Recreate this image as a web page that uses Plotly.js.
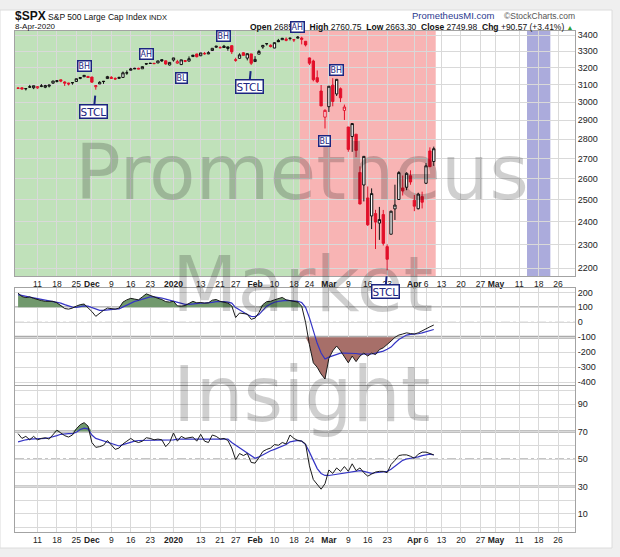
<!DOCTYPE html>
<html><head><meta charset="utf-8">
<script src="https://cdn.plot.ly/plotly-3.0.1.min.js"></script>
<style>html,body{margin:0;padding:0;background:#efefef;overflow:hidden}#chart{width:620px;height:557px}</style>
</head><body><div id="chart"></div>
<script>
// ---------------- DATA ----------------
const dates = ['2019-11-04','2019-11-05','2019-11-06','2019-11-07','2019-11-08','2019-11-11','2019-11-12','2019-11-13','2019-11-14','2019-11-15','2019-11-18','2019-11-19','2019-11-20','2019-11-21','2019-11-22','2019-11-25','2019-11-26','2019-11-27','2019-11-29',
'2019-12-02','2019-12-03','2019-12-04','2019-12-05','2019-12-06','2019-12-09','2019-12-10','2019-12-11','2019-12-12','2019-12-13','2019-12-16','2019-12-17','2019-12-18','2019-12-19','2019-12-20','2019-12-23','2019-12-24','2019-12-26','2019-12-27','2019-12-30','2019-12-31',
'2020-01-02','2020-01-03','2020-01-06','2020-01-07','2020-01-08','2020-01-09','2020-01-10','2020-01-13','2020-01-14','2020-01-15','2020-01-16','2020-01-17','2020-01-21','2020-01-22','2020-01-23','2020-01-24','2020-01-27','2020-01-28','2020-01-29','2020-01-30','2020-01-31',
'2020-02-03','2020-02-04','2020-02-05','2020-02-06','2020-02-07','2020-02-10','2020-02-11','2020-02-12','2020-02-13','2020-02-14','2020-02-18','2020-02-19','2020-02-20','2020-02-21','2020-02-24','2020-02-25','2020-02-26','2020-02-27','2020-02-28',
'2020-03-02','2020-03-03','2020-03-04','2020-03-05','2020-03-06','2020-03-09','2020-03-10','2020-03-11','2020-03-12','2020-03-13','2020-03-16','2020-03-17','2020-03-18','2020-03-19','2020-03-20','2020-03-23','2020-03-24','2020-03-25','2020-03-26','2020-03-27','2020-03-30','2020-03-31',
'2020-04-01','2020-04-02','2020-04-03','2020-04-06','2020-04-07','2020-04-08'];

const openP = [3078.96,3080.80,3075.10,3087.02,3081.25,3080.33,3089.28,3084.18,3090.75,3107.92,3117.91,3127.45,3114.66,3108.49,3111.41,3117.44,3134.85,3145.49,3147.18,
3143.85,3087.41,3103.50,3119.21,3134.62,3141.86,3135.36,3135.75,3141.23,3166.65,3183.63,3195.40,3195.21,3192.32,3223.33,3226.05,3225.45,3227.20,3247.23,3240.09,3215.18,
3244.67,3226.36,3217.55,3241.86,3238.59,3266.03,3281.81,3271.13,3285.35,3282.27,3302.97,3323.66,3321.03,3330.02,3315.77,3333.10,3247.16,3255.35,3289.46,3256.45,3282.33,
3235.66,3280.61,3324.91,3344.92,3335.54,3318.28,3365.87,3370.50,3365.90,3378.08,3369.04,3380.39,3380.45,3360.50,3257.61,3238.94,3139.90,3062.54,2916.90,
2974.28,3096.46,3045.75,3075.70,2954.20,2863.89,2813.48,2825.60,2630.86,2569.99,2508.59,2425.66,2436.50,2393.48,2431.94,2290.71,2344.44,2457.77,2501.29,2555.87,2558.98,2614.69,
2498.08,2458.54,2514.92,2578.28,2738.65,2685.00];

const highP = [3085.20,3083.95,3078.34,3097.77,3093.09,3088.33,3102.61,3098.06,3098.20,3120.46,3124.17,3127.64,3118.97,3110.11,3112.87,3133.83,3142.69,3154.26,3150.30,
3144.31,3094.97,3119.38,3119.45,3150.60,3148.87,3142.12,3143.98,3176.28,3182.68,3197.71,3198.22,3198.48,3205.48,3225.65,3227.78,3226.43,3240.08,3247.93,3240.92,3231.72,
3258.14,3246.15,3246.84,3244.91,3267.07,3275.58,3282.99,3288.13,3294.25,3298.66,3317.11,3329.88,3329.79,3337.77,3326.88,3333.18,3258.85,3285.78,3293.47,3285.91,3282.33,
3268.44,3306.92,3337.58,3347.96,3341.42,3352.26,3375.63,3381.47,3385.09,3380.69,3375.01,3393.52,3389.15,3360.76,3259.81,3246.99,3182.51,3097.07,2959.72,
3090.96,3136.72,3130.97,3083.04,2985.93,2863.89,2882.59,2825.60,2660.95,2711.33,2562.98,2553.93,2453.57,2466.97,2453.01,2300.73,2449.71,2571.42,2637.01,2615.91,2631.80,2641.39,
2522.75,2533.22,2538.18,2676.85,2756.89,2760.75];

const lowP = [3074.87,3072.15,3065.89,3080.23,3073.58,3075.82,3084.73,3078.80,3083.26,3104.60,3112.06,3113.47,3091.41,3094.55,3099.26,3117.44,3131.00,3143.41,3139.34,
3110.78,3070.33,3102.53,3103.76,3134.62,3135.46,3126.09,3133.21,3138.47,3156.51,3183.63,3191.03,3191.14,3192.32,3216.03,3222.30,3220.51,3227.20,3234.37,3216.57,3212.03,
3235.53,3222.34,3214.64,3232.43,3236.67,3263.67,3260.86,3268.43,3277.19,3280.69,3302.82,3318.86,3316.61,3320.04,3301.87,3281.53,3234.50,3253.22,3271.89,3242.80,3214.68,
3235.66,3280.61,3313.75,3334.39,3322.12,3317.77,3355.61,3369.72,3360.52,3366.15,3355.61,3378.83,3341.02,3328.45,3214.65,3118.77,3108.99,2977.39,2855.84,
2945.19,2976.63,3034.38,2999.83,2901.54,2734.43,2734.00,2707.22,2478.86,2492.37,2380.94,2367.04,2280.52,2319.78,2295.56,2191.86,2344.44,2407.53,2500.72,2520.02,2545.28,2571.15,
2447.49,2455.79,2459.96,2574.57,2657.67,2663.30];

const closeP = [3078.27,3074.62,3076.78,3085.18,3093.08,3087.01,3091.84,3094.04,3096.63,3120.46,3122.03,3120.18,3108.46,3103.54,3110.29,3133.64,3140.52,3153.63,3140.98,
3113.87,3093.20,3112.76,3117.43,3145.91,3135.96,3132.52,3141.63,3168.57,3168.80,3191.45,3192.52,3191.14,3205.37,3221.22,3224.01,3223.38,3239.91,3240.02,3221.29,3230.78,
3257.85,3234.85,3246.28,3237.18,3253.05,3274.70,3265.35,3288.13,3283.15,3289.29,3316.81,3329.62,3320.79,3321.75,3325.54,3295.47,3243.63,3276.24,3273.40,3283.66,3225.52,
3248.92,3297.59,3334.69,3345.78,3327.71,3352.09,3357.75,3379.45,3373.94,3380.16,3370.29,3386.15,3373.23,3337.75,3225.89,3128.21,3116.39,2978.76,2954.22,
3090.23,3003.37,3130.12,3023.94,2972.37,2746.56,2882.23,2741.38,2480.64,2711.02,2386.13,2529.19,2398.10,2409.39,2304.92,2237.40,2447.33,2475.56,2630.07,2541.47,2626.65,2584.59,
2470.50,2526.90,2488.65,2663.68,2659.41,2749.98];

// middle panel (CCI)
const cci = [195,172,165,170,160, 150,145,140,138,140, 130,112,92,88,95, 108,118,122,100,
72,40,62,80,95, 90,88,95,135,150, 160,155,150,170,190, 180,168,160,152,138,135,
140,110, 108,112,125,140,130, 132,128,130,148,152, 140,135,128,110, 32,62,58,55,20,
28,65,118,138,140, 150,158,166,150,145, 138,135,108,0, -150,-270,-300,-345,-378,
-240,-190,-158,-190,-235, -270,-225,-262,-225,-205, -225,-205,-215,-182,-170, -150,-125,-100,-85,-78, -70,-75,
-78,-70,-55, -40,-30,-18];
const cciAvg = [185,178,172,168,163, 158,152,147,143,141, 137,128,118,108,102, 100,104,110,108,
98,85,80,80,84, 86,88,90,102,118, 130,140,146,154,165, 170,170,167,162,155,148,
145,135, 126,120,120,124,127, 128,128,128,133,138, 140,138,135,128, 98,82,66,52,40,
38,52,82,108,122, 134,140,145,146,145, 143,140,132,100, 30,-60,-140,-205,-245,
-232,-222,-212,-205,-205, -205,-205,-208,-212,-213, -213,-210,-205,-200,-192, -180,-165,-138,-115,-100, -85,-80,
-80,-76,-70, -62,-55,-48];

// bottom panel (RSI)
const rsi = [68.5,65,66.5,64,66.5, 64,65,65.5,64.5,68, 71,69,67,66,67.5, 72,75,76.5,74,
62,58.5,59,60,63.5, 60,57,58,61,63, 65,63,62,63,65.5, 65,64,64.5,64,59,62,
69,63, 66.5,65,65.5,66,63, 68,63,62,67.5,66.5, 64.5,65,63.5,58, 49.5,54,52.5,54,47.5,
47,51,55.5,57,58, 60.5,60,62,61,67.5, 65,63.5,63,61, 45,35,31.5,28,32,
42,39.5,43.5,41,44.5, 41,46.5,41.5,43.5,40, 37.5,39,40.5,41,41, 40,46,49,52.5,53, 53,52,
50.5,53.5,55, 55,54,53];
const rsiAvg = [62.5,63.5,64,64.5,64.5, 64.5,64.5,65,65.5,66, 67,68,68.5,68.5,68.5, 69.5,71.5,72.5,72,
67.5,65,64,63,62, 61,60,59.5,60.5,61.5, 62.5,63,63.5,63.5,64, 64,64,64,64,63.5,63.5,
64,64.5, 64.5,64.5,64.5,65,65, 65,65,65,65,65, 65,65,64.5,62, 60,58,56.5,54,52,
50.5,51.5,53,55,56, 57,58,59,60.5,62.5, 63,63.5,63,60.5, 55,49,43,39.5,38,
38,38.5,39,39.5,40, 40.5,41,41.5,41.5,41, 40,39.5,40,40.5,40.5, 41,42.5,44.5,47,49, 50,50.5,
50.5,51.5,52.5, 53,53.5,53];

// calendar / ticks
const marketClosed = ['2019-11-28','2019-12-25','2020-01-01','2020-01-20','2020-02-17','2020-04-10','2020-05-25'];
const tickDates = ['2019-11-11','2019-11-18','2019-11-25','2019-12-02','2019-12-09','2019-12-16','2019-12-23','2020-01-02','2020-01-13','2020-01-21','2020-01-27','2020-02-03','2020-02-10','2020-02-18','2020-02-24','2020-03-02','2020-03-09','2020-03-16','2020-03-23','2020-04-01','2020-04-06','2020-04-13','2020-04-20','2020-04-27','2020-05-01','2020-05-11','2020-05-18','2020-05-26'];
const tickLabels = ['11','18','25','<b>Dec</b>','9','16','23','<b>2020</b>','13','21','27','<b>Feb</b>','10','18','24','<b>Mar</b>','9','16','23','<b>Apr</b>','6','13','20','27','<b>May</b>','11','18','26'];
const priceTicks = [2200,2300,2400,2500,2600,2700,2800,2900,3000,3100,3200,3300,3400];
const cciTicks = [-400,-300,-200,-100,0,100,200];
const rsiTicks = [0,10,20,30,40,50,60,70,80,90,100];
const rsiTickLabels = ['','10','','30','','50','','70','','90',''];

// signal labels
const markDates = ['2019-11-27','2019-12-20','2020-01-06','2020-01-22','2020-02-19','2020-02-28','2020-03-04'];
const markTexts = ['BH','AH','BL','BH','AH','BL','BH'];
const markSides = ['high','high','low','high','high','low','high'];
const stclDates = ['2019-12-03','2020-01-31','2020-03-23'];

// background zones
const greenZoneEnd = '2020-02-19';
const redZoneEnd = '2020-04-08';
const blueZone = ['2020-05-13','2020-05-21'];

// ---------------- BUILD ----------------
function tradingDays(start, end, closed){
  const out=[]; let t=Date.parse(start+'T00:00:00Z'); const e=Date.parse(end+'T00:00:00Z');
  while(t<=e){ const d=new Date(t); const wd=d.getUTCDay(); const s=d.toISOString().slice(0,10);
    if(wd!==0 && wd!==6 && closed.indexOf(s)<0) out.push(s); t+=86400000; }
  return out;
}
const cal = tradingDays(dates[0],'2020-06-30',marketClosed);
const pos = d => cal.indexOf(d);
const xs = dates.map(pos);
const W=620,H=557;
const px = v => v/W, py = v => 1 - v/H;
const xRange=[-0.79,143.35];
const FONT='Liberation Sans, Arial, sans-serif';
const NAVY='#1b2580';
const RED='#e2102a';

// candles split by StockCharts colouring
const groups={bh:{i:[]},bf:{i:[]},rh:{i:[]},rf:{i:[]}};
for(let i=0;i<dates.length;i++){
  const prev = i>0?closeP[i-1]:openP[i];
  const up = closeP[i]>=prev, hollow = closeP[i]>=openP[i];
  groups[(up?'b':'r')+(hollow?'h':'f')].i.push(i);
}
const traces=[];
const gstyle={bh:['#111','#ffffff'],bf:['#111','#111'],rh:[RED,'#ffffff'],rf:[RED,RED]};
for(const k in groups){
  const idx=groups[k].i; if(!idx.length) continue;
  const st={line:{color:gstyle[k][0],width:1},fillcolor:gstyle[k][1]};
  traces.push({type:'candlestick',xaxis:'x',yaxis:'y',
    x:idx.map(i=>xs[i]),open:idx.map(i=>openP[i]),high:idx.map(i=>highP[i]),low:idx.map(i=>lowP[i]),close:idx.map(i=>closeP[i]),
    increasing:st,decreasing:st,whiskerwidth:0,hoverinfo:'skip',showlegend:false});
}
// CCI
traces.push({x:xs,y:xs.map(()=>100),xaxis:'x2',yaxis:'y2',mode:'lines',line:{width:0},hoverinfo:'skip'});
traces.push({x:xs,y:cci.map(v=>Math.max(v,100)),xaxis:'x2',yaxis:'y2',mode:'lines',line:{width:0},fill:'tonexty',fillcolor:'#71996d',hoverinfo:'skip'});
traces.push({x:xs,y:xs.map(()=>-100),xaxis:'x2',yaxis:'y2',mode:'lines',line:{width:0},hoverinfo:'skip'});
traces.push({x:xs,y:cci.map(v=>Math.min(v,-100)),xaxis:'x2',yaxis:'y2',mode:'lines',line:{width:0},fill:'tonexty',fillcolor:'#a76f69',hoverinfo:'skip'});
traces.push({x:xs,y:cciAvg,xaxis:'x2',yaxis:'y2',mode:'lines',line:{color:'#3434c4',width:1.2},hoverinfo:'skip'});
traces.push({x:xs,y:cci,xaxis:'x2',yaxis:'y2',mode:'lines',line:{color:'#1a1a1a',width:1},hoverinfo:'skip'});
// RSI
traces.push({x:xs,y:xs.map(()=>70),xaxis:'x3',yaxis:'y3',mode:'lines',line:{width:0},hoverinfo:'skip'});
traces.push({x:xs,y:rsi.map(v=>Math.max(v,70)),xaxis:'x3',yaxis:'y3',mode:'lines',line:{width:0},fill:'tonexty',fillcolor:'#71996d',hoverinfo:'skip'});
traces.push({x:xs,y:rsiAvg,xaxis:'x3',yaxis:'y3',mode:'lines',line:{color:'#3434c4',width:1.2},hoverinfo:'skip'});
traces.push({x:xs,y:rsi,xaxis:'x3',yaxis:'y3',mode:'lines',line:{color:'#1a1a1a',width:1},hoverinfo:'skip'});

const tickPos = tickDates.map(pos);
const xBase = {range:xRange,tickmode:'array',tickvals:tickPos,ticktext:tickLabels,tickangle:0,showgrid:true,gridcolor:'#d9d9d9',gridwidth:1,
  ticks:'',showline:true,mirror:true,linecolor:'#a3a3a3',linewidth:1,zeroline:false,fixedrange:true,
  tickfont:{family:FONT,size:8.5,color:'#222'}};
const yBase = {side:'right',showgrid:true,gridcolor:'#d9d9d9',ticks:'',showline:true,mirror:true,linecolor:'#a3a3a3',
  zeroline:false,fixedrange:true,tickfont:{family:FONT,size:9,color:'#222'},tickmode:'array'};
const xDom=[px(15),px(575)];

const shapes=[];
shapes.push({type:'rect',xref:'paper',yref:'paper',x0:0,x1:px(612),y0:py(548),y1:py(10),fillcolor:'#ffffff',line:{color:'#dcdcdc',width:1},layer:'below'});
shapes.push({type:'rect',xref:'x',yref:'y domain',x0:xRange[0],x1:pos(greenZoneEnd)+0.5,y0:0,y1:1,fillcolor:'#c0e1ba',line:{width:0},layer:'below'});
shapes.push({type:'rect',xref:'x',yref:'y domain',x0:pos(greenZoneEnd)+0.5,x1:pos(redZoneEnd)+0.5,y0:0,y1:1,fillcolor:'#f8b4b4',line:{width:0},layer:'below'});
shapes.push({type:'rect',xref:'x',yref:'y domain',x0:pos(blueZone[0]),x1:pos(blueZone[1]),y0:0,y1:1,fillcolor:'#ababdc',line:{width:0},layer:'below'});
// year separator
['y','y2','y3'].forEach((ya,k)=>{
  const xa=['x','x2','x3'][k];
  shapes.push({type:'line',xref:xa,yref:ya+' domain',x0:pos('2020-01-02'),x1:pos('2020-01-02'),y0:0,y1:1,line:{color:'#bdbdbd',width:1},layer:'below'});
});
// reference levels
const hl=(ya,xa,v,color,w,dash)=>shapes.push({type:'line',xref:xa+' domain',yref:ya,x0:0,x1:1,y0:v,y1:v,line:{color:color,width:w,dash:dash||'solid'},layer:'below'});
hl('y2','x2',100,'#7d7d7d',1.5); hl('y2','x2',0,'#8a8a8a',1,'dashdot'); hl('y2','x2',-100,'#ababab',3);
hl('y3','x3',70,'#ababab',2.5); hl('y3','x3',50,'#8a8a8a',1,'dashdot'); hl('y3','x3',30,'#9a9a9a',2);
// STCL circles
stclDates.forEach(d=>{
  const i=dates.indexOf(d);
  shapes.push({type:'circle',xref:'x',yref:'y',xsizemode:'pixel',ysizemode:'pixel',xanchor:xs[i],yanchor:Math.log10(lowP[i]),
    x0:-6,x1:6,y0:-6,y1:6,line:{color:NAVY,width:2},layer:'above'});
});

const ann=[];
// watermark
const wm=['Prometheus','Market','Insight'], wmY=[172,284,394];
wm.forEach((t,k)=>ann.push({text:t,xref:'paper',yref:'paper',x:px(302),y:py(wmY[k]),xanchor:'center',yanchor:'middle',showarrow:false,
  font:{family:'DejaVu Sans, Verdana, sans-serif',size:76,color:'rgba(0,0,0,0.19)'}}));
// header
const n=dates.length-1;
const mon=['Jan','Feb','Mar','Apr','May','Jun','Jul','Aug','Sep','Oct','Nov','Dec'];
const ld=new Date(dates[n]+'T00:00:00Z');
const dateStr=ld.getUTCDate()+'-'+mon[ld.getUTCMonth()]+'-'+ld.getUTCFullYear();
const chg=closeP[n]-closeP[n-1], pct=chg/closeP[n-1]*100;
const sgn=v=>(v>=0?'+':'')+v.toFixed(2);
ann.push({text:'<b><span style="font-size:12px">$SPX</span></b> S&amp;P 500 Large Cap Index <span style="font-size:7.5px">INDX</span>',xref:'paper',yref:'paper',x:px(13),y:py(16),xanchor:'left',yanchor:'middle',showarrow:false,font:{family:FONT,size:8.5,color:'#111'}});
ann.push({text:dateStr,xref:'paper',yref:'paper',x:px(13),y:py(26.5),xanchor:'left',yanchor:'middle',showarrow:false,font:{family:FONT,size:8,color:'#111'}});
ann.push({text:'<b>Open</b> '+openP[n].toFixed(2)+'  <b>High</b> '+highP[n].toFixed(2)+'  <b>Low</b> '+lowP[n].toFixed(2)+'  <b>Close</b> '+closeP[n].toFixed(2)+'  <b>Chg</b> '+sgn(chg)+' ('+sgn(pct)+'%) <span style="color:#2f9e2f;font-size:7px">▲</span>',
  xref:'paper',yref:'paper',x:px(576),y:py(26.5),xanchor:'right',yanchor:'middle',showarrow:false,font:{family:FONT,size:8.5,color:'#111'}});
ann.push({text:'PrometheusMI.com',xref:'paper',yref:'paper',x:px(410),y:py(16),xanchor:'left',yanchor:'middle',showarrow:false,font:{family:FONT,size:9.5,color:'#2b3a8f'}});
ann.push({text:'©StockCharts.com',xref:'paper',yref:'paper',x:px(577),y:py(16),xanchor:'right',yanchor:'middle',showarrow:false,font:{family:FONT,size:8.5,color:'#555'}});
// signal labels
markDates.forEach((d,k)=>{
  const i=dates.indexOf(d); const hi=markSides[k]==='high';
  ann.push({text:markTexts[k],xref:'x',yref:'y',x:xs[i],y:Math.log10(hi?highP[i]:lowP[i]),yshift:hi?9:-12.5,xanchor:'center',yanchor:'middle',
    showarrow:false,bgcolor:'#ffffff',bordercolor:NAVY,borderwidth:1.5,borderpad:0,font:{family:'DejaVu Sans, sans-serif',size:8,color:NAVY}});
});
stclDates.forEach(d=>{
  const i=dates.indexOf(d);
  ann.push({text:'STCL',xref:'x',yref:'y',x:xs[i],y:Math.log10(lowP[i]),ax:-2,ay:21.5,showarrow:true,arrowhead:0,arrowwidth:2,arrowcolor:NAVY,standoff:6,
    bgcolor:'#ffffff',bordercolor:NAVY,borderwidth:1.5,borderpad:0,font:{family:'DejaVu Sans, sans-serif',size:10.5,color:NAVY}});
});

const layout={width:W,height:H,margin:{l:0,r:0,t:0,b:0},paper_bgcolor:'#efefef',plot_bgcolor:'rgba(0,0,0,0)',showlegend:false,
  boxgap:0.15,font:{family:FONT,size:9,color:'#222'},hovermode:false,
  xaxis:Object.assign({},xBase,{domain:xDom,anchor:'y',rangeslider:{visible:false}}),
  xaxis2:Object.assign({},xBase,{domain:xDom,anchor:'y2',showticklabels:false}),
  xaxis3:Object.assign({},xBase,{domain:xDom,anchor:'y3'}),
  yaxis:Object.assign({},yBase,{domain:[py(276),py(31)],anchor:'x',type:'log',range:[3.33618,3.53474],tickvals:priceTicks,ticktext:priceTicks.map(String)}),
  yaxis2:Object.assign({},yBase,{domain:[py(385),py(288)],anchor:'x2',range:[-418,229],tickvals:cciTicks,ticktext:cciTicks.map(String)}),
  yaxis3:Object.assign({},yBase,{domain:[py(532),py(386)],anchor:'x3',range:[-3.2,103.2],tickvals:rsiTicks,ticktext:rsiTickLabels}),
  shapes:shapes,annotations:ann};
Plotly.newPlot('chart',traces,layout,{displayModeBar:false});
</script></body></html>
